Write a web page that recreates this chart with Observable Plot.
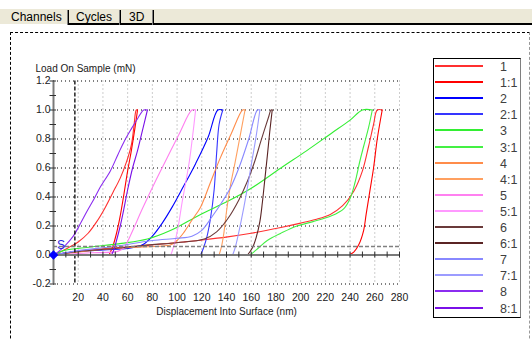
<!DOCTYPE html>
<html><head><meta charset="utf-8">
<script src="https://cdn.jsdelivr.net/npm/d3@7"></script>
<script src="https://cdn.jsdelivr.net/npm/@observablehq/plot@0.6"></script>
<style>
body{margin:0;width:532px;height:339px;overflow:hidden;background:#fff;font-family:"Liberation Sans",Arial,sans-serif;position:relative}
#tabbar{position:absolute;left:0;top:9px;width:532px;height:15px;background:#ECE9D8}
#tabline{position:absolute;left:68px;top:23px;width:464px;height:2px;background:#000}
.tab{position:absolute;top:10px;font-size:12px;line-height:14px;color:#000}
.sep{position:absolute;top:10px;height:15px;width:1px;background:#000;border-left:1px solid #808080}
#frame{position:absolute;left:10px;top:32px;width:518px;height:400px;border-top:1px dashed #000;border-left:1px dashed #000;border-right:1px dashed #999}
#legend{position:absolute;left:433px;top:58px;width:86px;height:258px;border:1px solid #000;border-right-color:#808080;background:#fff}
.lgline{position:absolute;left:435px;width:48px;height:2px}
.lgtext{position:absolute;left:500px;font-size:12.5px;line-height:14px;color:#404040}
#chart{position:absolute;left:0;top:40px}
</style></head>
<body>
<div id="tabbar"></div>
<div id="tabline"></div>
<div class="tab" style="left:11px">Channels</div>
<div class="sep" style="left:67px"></div>
<div class="tab" style="left:76px">Cycles</div>
<div class="sep" style="left:119px"></div>
<div class="tab" style="left:129px">3D</div>
<div class="sep" style="left:152px"></div>
<div id="frame"></div>
<div id="chart"></div>
<div id="legend"></div>
<script>
// ---- legend / series ----
const seriesNames = ["1","1:1","2","2:1","3","3:1","4","4:1","5","5:1","6","6:1","7","7:1","8","8:1"];
const seriesColors = ["#FF3030","#FF0000","#0000FF","#3535FF","#33EE33","#44F044","#FF8C4A","#FFA060",
                      "#FF80F0","#FF99FF","#6A3A3A","#5A2424","#8888FF","#9C9CFF","#8B2CF0","#7A10E8"];

// ---- axis ticks ----
const xTicks = [20,40,60,80,100,120,140,160,180,200,220,240,260,280];
const xMinor = [0,10,20,30,40,50,60,70,80,90,100,110,120,130,140,150,160,170,180,190,200,210,220,230,240,250,260,270,280];
const yTicks = [-0.2,0,0.2,0.4,0.6,0.8,1.0,1.2];
const yGrid = [-0.2,0.2,0.4,0.6,0.8,1.0,1.2];
const yMinor = [-0.2,-0.1,0,0.1,0.2,0.3,0.4,0.5,0.6,0.7,0.8,0.9,1.0,1.1,1.2];
const surfaceX = [17.3];      // surface marker (nm)
const surfaceY = [0.058];     // surface load threshold (mN)
const origin = [[0,0]];

// ---- curves: [displacement nm, load mN] ----
const red1Load = [[0,0],[5,0.02],[12,0.05],[20,0.09],[28,0.15],[35,0.23],[42,0.33],[48,0.43],[54,0.53],[59,0.64],[63,0.76],[65,0.88],[67,1.0],[68,1.0]];
const red1Unload = [[68,1.0],[66,0.88],[63,0.72],[60,0.58],[57,0.42],[54,0.27],[51,0.15],[48,0.06],[45,0]];
const red2Load = [[0,0],[20,0.025],[50,0.05],[80,0.07],[105,0.09],[122,0.105],[141,0.125],[160,0.15],[184,0.19],[200,0.22],[212,0.245],[224,0.28],[234,0.34],[243,0.44],[250,0.58],[255,0.75],[259,0.9],[262,1.0],[266,1.0]];
const red2Unload = [[266,1.0],[262,0.8],[259,0.6],[256,0.44],[253,0.28],[251,0.17],[247,0.07],[243,0.02],[239,0]];
const blueLoad = [[0,0],[15,0.02],[40,0.035],[60,0.045],[72,0.07],[80,0.13],[88,0.22],[96,0.33],[105,0.47],[115,0.63],[125,0.81],[133,1.0],[137,1.0]];
const blueUnload = [[137,1.0],[134,0.9],[132,0.7],[130,0.45],[127,0.25],[124,0.12],[121,0.04],[119,0]];
const greenLoad = [[0,0],[8,0.03],[30,0.055],[55,0.08],[76,0.11],[95,0.17],[119,0.28],[141,0.37],[160,0.46],[184,0.6],[205,0.72],[225,0.84],[240,0.93],[250,1.0],[258,1.0]];
const greenUnload = [[258,1.0],[255,0.88],[251,0.75],[248,0.65],[244,0.5],[240,0.39],[235,0.32],[225,0.27],[210,0.23],[197,0.2],[184,0.15],[173,0.1],[166,0.05],[162,0.02],[159,0]];
const orangeLoad = [[0,0],[30,0.03],[60,0.05],[85,0.06],[95,0.07],[100,0.1],[105,0.15],[112,0.24],[119,0.33],[127,0.5],[135,0.67],[144,0.84],[153,1.0],[155,1.0]];
const orangeUnload = [[155,1.0],[151,0.82],[147,0.64],[143,0.47],[140,0.3],[138,0.16],[136,0.06],[134,0]];
const pinkLoad = [[0,0],[30,0.015],[52,0.025],[57,0.05],[62,0.13],[72,0.32],[82,0.5],[92,0.67],[102,0.84],[112,1.0],[115,1.0]];
const pinkUnload = [[115,1.0],[113,0.85],[110,0.65],[107,0.5],[104,0.36],[101,0.2],[98,0.08],[95,0]];
const brownLoad = [[0,0],[20,0.025],[50,0.045],[78,0.07],[100,0.085],[122,0.11],[132,0.16],[141,0.25],[150,0.38],[157,0.51],[163,0.65],[168,0.79],[174,0.95],[176,1.0],[177,1.0]];
const brownUnload = [[177,1.0],[175,0.85],[173,0.68],[171,0.52],[169,0.36],[167,0.23],[164,0.12],[161,0.05],[157,0]];
const lavenderLoad = [[0,0],[20,0.03],[50,0.06],[80,0.1],[100,0.115],[112,0.13],[120,0.17],[128,0.26],[136,0.36],[143,0.46],[150,0.6],[158,0.8],[165,1.0],[167,1.0]];
const lavenderUnload = [[167,1.0],[164,0.82],[160,0.62],[156,0.42],[152,0.24],[149,0.12],[147,0.05],[145,0]];
const purpleLoad = [[0,0],[5,0.03],[10,0.07],[16,0.13],[22,0.22],[27,0.3],[33,0.39],[38,0.47],[46,0.58],[52,0.69],[57,0.78],[63,0.87],[68,0.94],[73,1.0],[76,1.0]];
const purpleUnload = [[76,1.0],[72,0.86],[68,0.72],[64,0.6],[60,0.45],[57,0.32],[54,0.2],[51,0.1],[49,0.04],[47,0]];

const curveSeries = ["1","1","1:1","1:1","2","2:1","3","3:1","4","4:1","5","5:1","6","6:1","7","7:1","8","8:1"];
const curveData = [red1Load,red2Load,red1Unload,red2Unload,blueLoad,blueUnload,greenLoad,greenUnload,
  orangeLoad,orangeUnload,pinkLoad,pinkUnload,brownLoad,brownUnload,lavenderLoad,lavenderUnload,purpleLoad,purpleUnload];

const rows = curveData.flatMap((pts, i) => pts.map(([x, y]) => ({x, y, curve: i, series: curveSeries[i]})));

const chart = Plot.plot({
  width: 420, height: 295,
  marginLeft: 53, marginRight: 21, marginTop: 40.5, marginBottom: 51.5,
  x: {domain: [0, 280]},
  y: {domain: [-0.2, 1.2]},
  color: {domain: seriesNames, range: seriesColors},
  style: {background: "transparent", fontFamily: "'Liberation Sans', Arial, sans-serif", color: "#202020"},
  marks: [
    Plot.ruleX(xTicks, {stroke: "#9a9a9a", strokeDasharray: "1,3"}),
    Plot.ruleY(yGrid, {stroke: "#000", strokeDasharray: "1,3"}),
    Plot.line(rows, {x: "x", y: "y", z: "curve", stroke: "series", strokeWidth: 1.1, curve: "catmull-rom"}),
    Plot.ruleX(surfaceX, {stroke: "#000", strokeDasharray: "4,2", strokeWidth: 1.3}),
    Plot.ruleY(surfaceY, {stroke: "#808080", strokeDasharray: "4,2", strokeWidth: 1.5}),
    Plot.ruleY([0], {stroke: "#7a7a7a", strokeWidth: 2}),
    Plot.ruleX([0], {stroke: "#7a7a7a", strokeWidth: 2}),
    Plot.ruleX(xMinor, {x: d => d, y1: 0, y2: 0, insetTop: -3, insetBottom: -3, stroke: "#303030"}),
    Plot.ruleY(yMinor, {y: d => d, x1: 0, x2: 0, insetLeft: -3.5, insetRight: -3, stroke: "#303030"}),
    Plot.axisX({ticks: xTicks, anchor: "bottom", tickSize: 0, tickPadding: 10, label: null, fontSize: 10.5}),
    Plot.axisY({ticks: yTicks, anchor: "left", tickSize: 0, tickPadding: 3, label: null, fontSize: 10.5, tickFormat: d => d.toFixed(1)}),
    Plot.dot(origin, {x: d => d[0], y: d => d[1], symbol: "square", r: 3, rotate: 45, fill: "#0000FF", stroke: "#0000FF"}),
    Plot.text(origin, {x: d => d[0], y: d => d[1], text: () => "S", dx: 7.5, dy: -9.5, fill: "#2a2ae0", fontSize: 12}),
    Plot.text(["Load On Sample (mN)"], {frameAnchor: "top-left", dx: -18, dy: -16.5, textAnchor: "start", fontSize: 10}),
    Plot.text(["Displacement Into Surface (nm)"], {frameAnchor: "bottom", dy: 30.5, fontSize: 10})
  ]
});
document.getElementById("chart").appendChild(chart);

// legend
seriesNames.forEach((name, i) => {
  const yc = 66 + i * 16.1;
  const ln = document.createElement("div");
  ln.className = "lgline";
  ln.style.top = (yc - 1) + "px";
  ln.style.background = seriesColors[i];
  document.body.appendChild(ln);
  const tx = document.createElement("div");
  tx.className = "lgtext";
  tx.style.top = (yc + 1 - 7) + "px";
  tx.textContent = name;
  document.body.appendChild(tx);
});
</script>
</body></html>
